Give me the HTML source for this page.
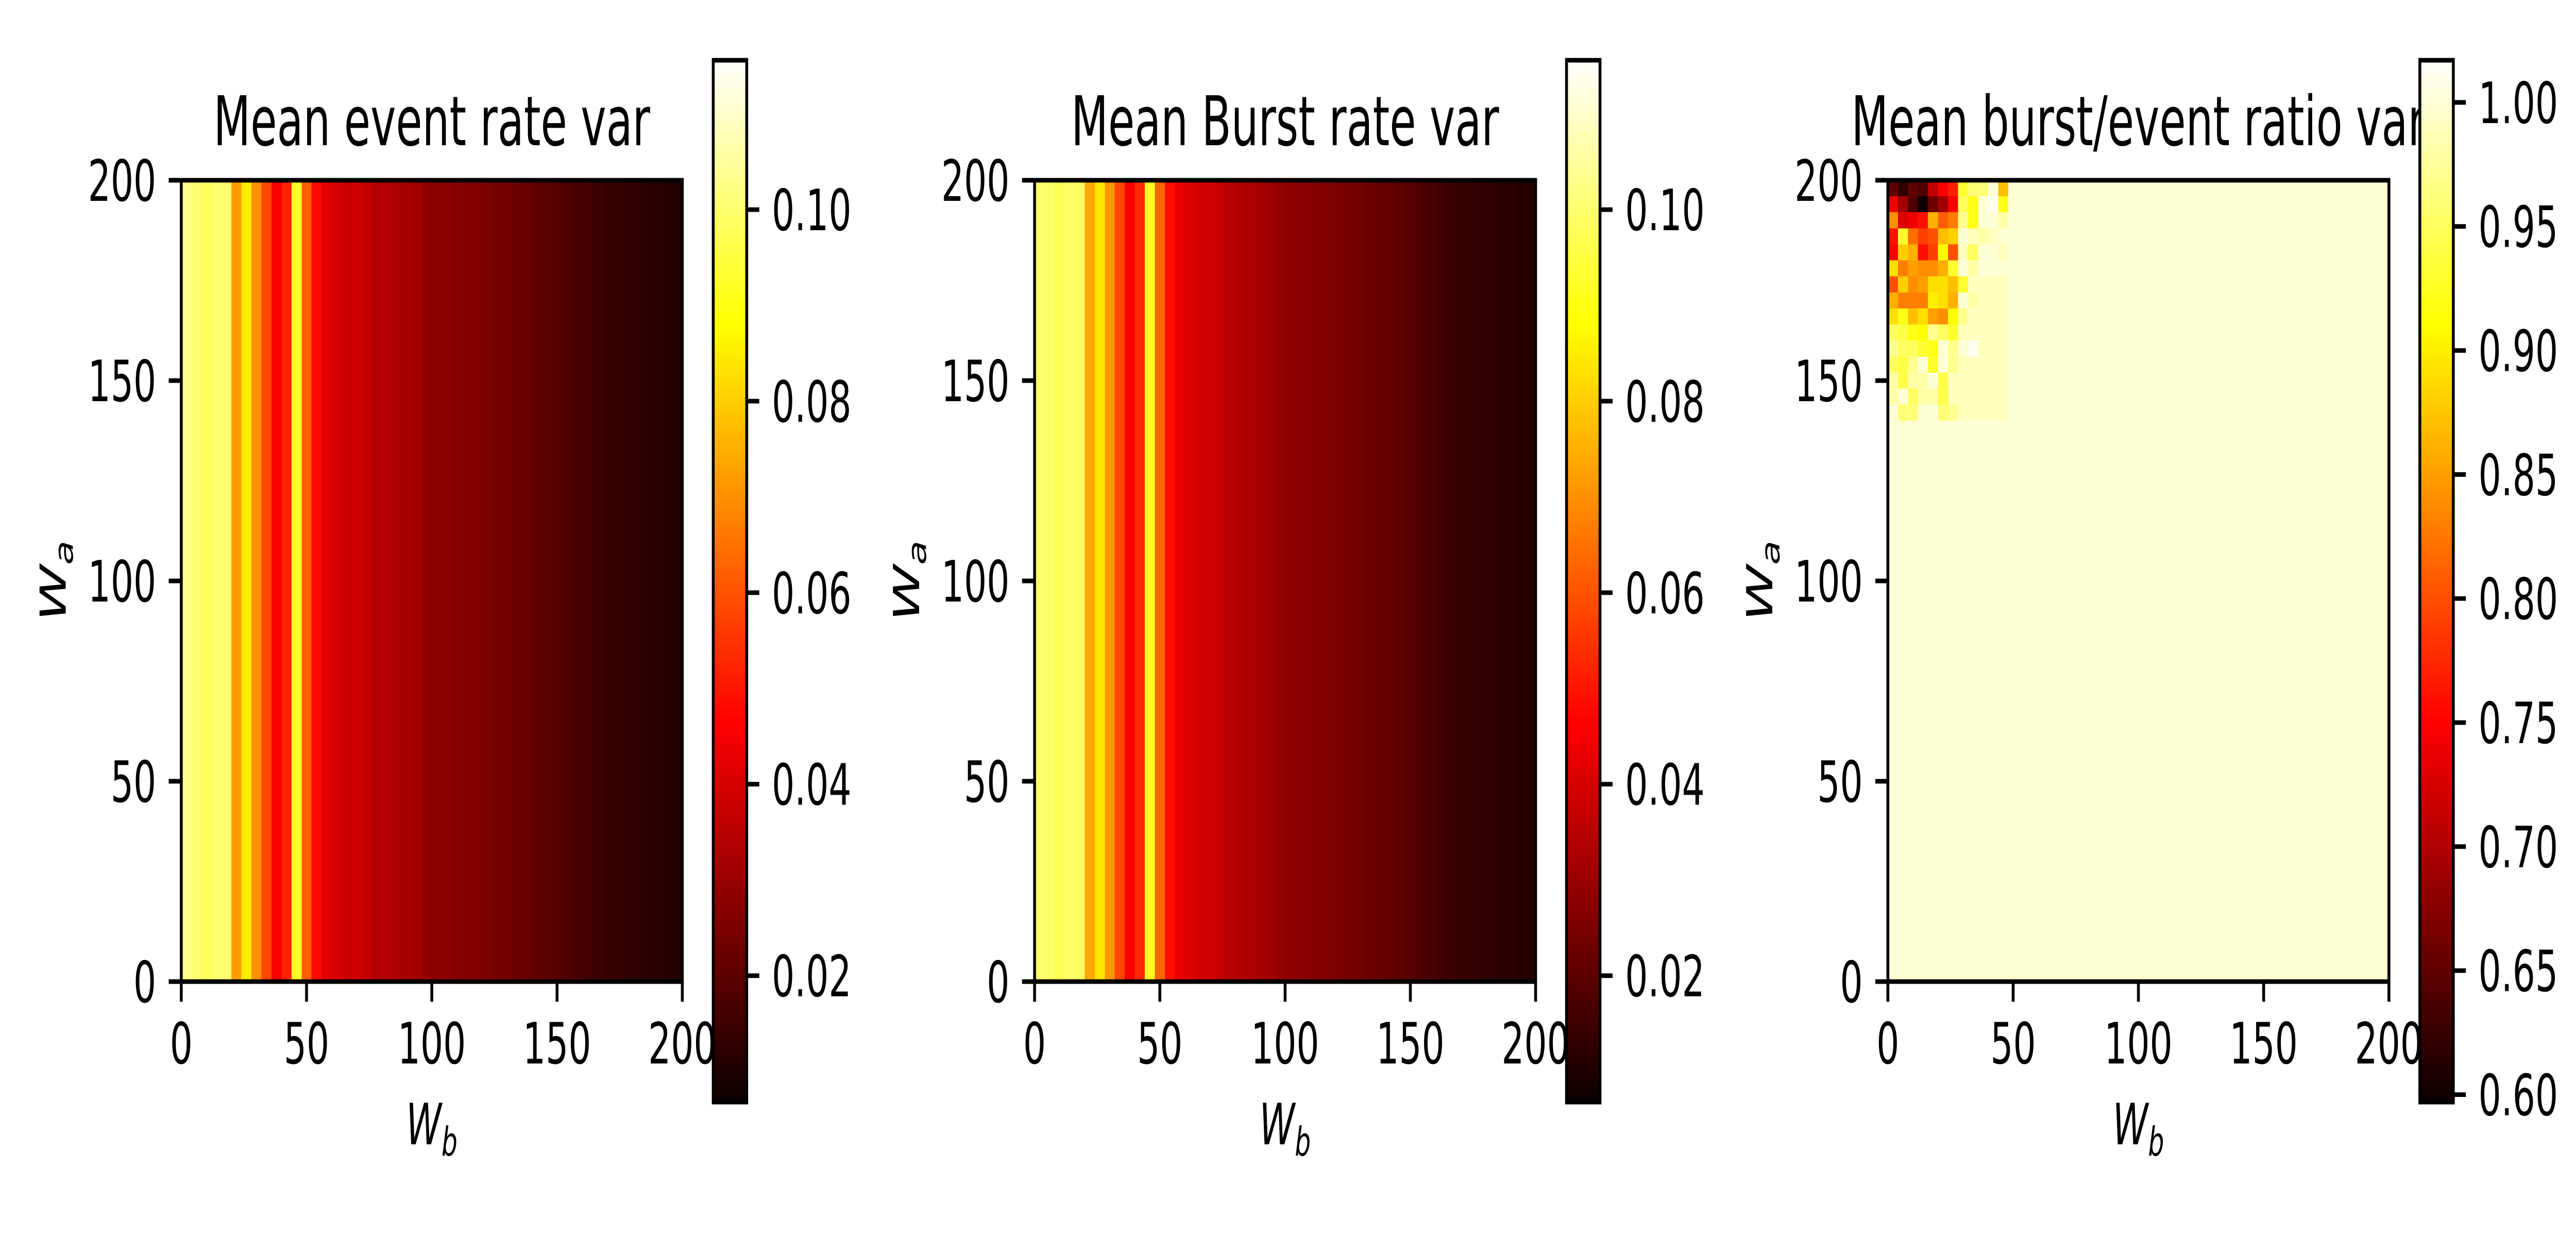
<!DOCTYPE html>
<html>
<head>
<meta charset="utf-8">
<style>
html,body{margin:0;padding:0;background:#fff;width:100%;height:100%;overflow:hidden;}
svg{display:block;width:100vw;height:100vh;}
text{font-family:"DejaVu Sans","Liberation Sans",sans-serif;fill:#000;}
</style>
</head>
<body>
<svg id="fig" viewBox="0 0 8000 2400" preserveAspectRatio="none" xmlns="http://www.w3.org/2000/svg">
<defs>
<linearGradient id="hotgrad" x1="0" y1="1" x2="0" y2="0">
<stop offset="0" stop-color="#0b0000"/>
<stop offset="0.365" stop-color="#ff0000"/>
<stop offset="0.746" stop-color="#ffff00"/>
<stop offset="1" stop-color="#ffffff"/>
</linearGradient>
</defs>
</svg>
<script>
// ---- data ----
const gridCount = 50;           // cells per axis (each cell spans 4 units)
const axisMax = 200;
const axisTicks = [0, 50, 100, 150, 200];
// Panel 1: mean event rate var, per-column (W_b) values
const eventRateCols = [0.103,0.100,0.098,0.100,0.100,0.072,0.085,0.070,0.058,0.045,
  0.052,0.092,0.062,0.048,0.042,0.040,0.038,0.039,0.037,0.034,
  0.034,0.033,0.032,0.031,0.029,0.028,0.028,0.027,0.026,0.026,
  0.025,0.024,0.024,0.023,0.022,0.021,0.020,0.019,0.018,0.017,
  0.016,0.015,0.014,0.014,0.013,0.013,0.012,0.012,0.011,0.011];
// Panel 2: mean burst rate var, per-column values
const burstRateCols = [0.100,0.099,0.097,0.099,0.098,0.074,0.084,0.071,0.058,0.046,
  0.053,0.092,0.063,0.049,0.043,0.041,0.039,0.039,0.037,0.035,
  0.034,0.033,0.032,0.031,0.029,0.028,0.028,0.027,0.026,0.026,
  0.025,0.024,0.024,0.023,0.022,0.021,0.020,0.019,0.018,0.017,
  0.016,0.015,0.014,0.014,0.013,0.013,0.012,0.012,0.011,0.011];
const rateTicks = [0.02, 0.04, 0.06, 0.08, 0.10];
const rateTickLabels = ["0.02","0.04","0.06","0.08","0.10"];
const rateMin = 0.0068, rateMax = 0.1156;
// Panel 3: ratio; background value and top-left corner rows (row 0 = top, W_a 196-200)
const ratioBackground = 1.0;
const ratioCorner = [
  [0.65,0.62,0.65,0.64,0.71,0.75,0.77,0.93,0.96,0.96,1.00,0.87],
  [0.74,0.69,0.64,0.60,0.66,0.69,0.75,0.95,0.92,1.00,1.01,0.92],
  [0.84,0.73,0.74,0.76,0.86,0.81,0.83,0.97,0.92,1.00,1.00,0.98],
  [0.76,0.93,0.82,0.79,0.80,0.87,0.88,1.00,0.99,0.98,0.99,1.00],
  [0.75,0.88,0.86,0.76,0.79,0.91,0.80,0.99,0.95,1.00,1.00,0.99],
  [0.89,0.83,0.85,0.84,0.84,0.86,0.93,1.00,0.98,1.00,1.00,1.00],
  [0.80,0.88,0.84,0.85,0.89,0.89,0.87,0.93,0.99,0.99,0.99,0.99],
  [0.86,0.83,0.83,0.83,0.90,0.89,0.86,1.00,0.98,0.99,0.99,0.99],
  [0.89,0.92,0.87,0.89,0.85,0.84,0.91,0.97,0.99,0.99,0.99,0.99],
  [0.95,0.94,0.92,0.91,0.97,0.95,0.93,0.99,0.99,0.99,0.99,0.99],
  [0.97,0.95,0.95,0.93,0.92,1.00,0.97,1.00,1.01,0.99,0.99,0.99],
  [0.95,0.94,0.97,1.00,0.93,1.00,0.97,0.99,0.99,0.99,0.99,0.99],
  [0.98,0.94,0.98,0.98,1.00,0.94,0.99,0.99,0.99,0.99,0.99,0.99],
  [0.98,1.00,0.95,0.98,0.98,0.94,0.99,0.99,0.99,0.99,0.99,0.99],
  [1.00,0.96,0.96,1.00,1.00,0.96,0.97,0.99,0.99,0.99,0.99,0.99]
];
const ratioTicks = [0.60,0.65,0.70,0.75,0.80,0.85,0.90,0.95,1.00];
const ratioTickLabels = ["0.60","0.65","0.70","0.75","0.80","0.85","0.90","0.95","1.00"];
const ratioMin = 0.597, ratioMax = 1.017;
const titles = ["Mean event rate var","Mean Burst rate var","Mean burst/event ratio var"];

// ---- layout ----
const NS = "http://www.w3.org/2000/svg";
const svg = document.getElementById('fig');
const AX_L = 563, AX_W = 1556, AX_T = 350, AX_B = 1906, OFFSET = 2650;
const CB_L = 2215, CB_W = 104, CB_T = 117, CB_B = 2140;
const LW = 8.9, TL = 39, FS = 111;

function el(tag, attrs, parent){
  const e = document.createElementNS(NS, tag);
  for (const k in attrs) e.setAttribute(k, attrs[k]);
  (parent||svg).appendChild(e);
  return e;
}
function hot(t){
  t = Math.max(0, Math.min(1, t));
  const r = Math.min(1, 0.0416 + t/0.365*(1-0.0416));
  const g = Math.max(0, Math.min(1, (t-0.365)/0.381));
  const b = Math.max(0, Math.min(1, (t-0.746)/0.254));
  return `rgb(${Math.round(r*255)},${Math.round(g*255)},${Math.round(b*255)})`;
}

function drawPanel(p, valueAt, vmin, vmax, cTicks, cLabels){
  const ox = p*OFFSET;
  const L = AX_L+ox, R = L+AX_W;
  const xs = v => L + v/axisMax*AX_W;
  const ys = v => AX_B - v/axisMax*(AX_B-AX_T);
  const g = el('g', {});
  
  
  const hm = el('g', {'shape-rendering':'crispEdges'}, g);
  
  
  const step = axisMax/gridCount;
  for (let r=0;r<gridCount;r++){
    for (let c=0;c<gridCount;c++){
      const v = valueAt(r,c);
      const x0 = xs(c*step), x1 = xs((c+1)*step);
      const y0 = ys(axisMax-(r)*step), y1 = ys(axisMax-(r+1)*step);
      const rc = el('rect', {x:x0, y:y0, width:x1-x0+0.6, height:y1-y0+0.6, fill:hot((v-vmin)/(vmax-vmin))}, hm);
      
      
    }
  }
  const frame = el('rect', {x:L, y:AX_T, width:AX_W, height:AX_B-AX_T, fill:'none', stroke:'#000', 'stroke-width':LW}, g);
  
  
  axisTicks.forEach(t=>{
    el('line', {x1:xs(t), x2:xs(t), y1:AX_B, y2:AX_B+TL, stroke:'#000','stroke-width':LW}, g);
    const tx = el('text', {x:xs(t), y:AX_B+TL+39+81, 'font-size':FS, 'text-anchor':'middle'}, g);
    tx.textContent = t;
    
    
    el('line', {x1:L-TL, x2:L, y1:ys(t), y2:ys(t), stroke:'#000','stroke-width':LW}, g);
    const ty = el('text', {x:L-TL-39, y:ys(t)+40, 'font-size':FS, 'text-anchor':'end'}, g);
    ty.textContent = t;
    
    
  });
  const title = el('text', {x:(L+R)/2, y:282, 'font-size':133.3, 'text-anchor':'middle'}, g);
  title.textContent = titles[p];
  
  
  const xl = el('text', {x:(L+R)/2, y:2222, 'font-size':FS, 'text-anchor':'middle', 'font-style':'italic'}, g);
  xl.innerHTML = 'W<tspan font-size="78" dy="22">b</tspan>';
  
  
  const yl = el('text', {x:0, y:0, 'font-size':FS, 'text-anchor':'middle', 'font-style':'italic',
     transform:`translate(${204+ox},1128) rotate(-90)`}, g);
  yl.innerHTML = 'W<tspan font-size="78" dy="22">a</tspan>';
  
  
  // colorbar
  const cbL = CB_L+ox;
  const cs = v => CB_B - (v-vmin)/(vmax-vmin)*(CB_B-CB_T);
  const cb = el('rect', {x:cbL, y:CB_T, width:CB_W, height:CB_B-CB_T, fill:'url(#hotgrad)', stroke:'#000','stroke-width':LW}, g);
  
  
  cTicks.forEach((t,i)=>{
    el('line', {x1:cbL+CB_W, x2:cbL+CB_W+TL, y1:cs(t), y2:cs(t), stroke:'#000','stroke-width':LW}, g);
    const ct = el('text', {x:cbL+CB_W+TL+39, y:cs(t)+40, 'font-size':FS}, g);
    ct.textContent = cLabels[i];
    
    
  });
}

drawPanel(0, (r,c)=>eventRateCols[c], rateMin, rateMax, rateTicks, rateTickLabels);
drawPanel(1, (r,c)=>burstRateCols[c], rateMin, rateMax, rateTicks, rateTickLabels);
drawPanel(2, (r,c)=>(r<ratioCorner.length && c<ratioCorner[r].length) ? ratioCorner[r][c] : ratioBackground,
          ratioMin, ratioMax, ratioTicks, ratioTickLabels);
</script>
</body>
</html>
